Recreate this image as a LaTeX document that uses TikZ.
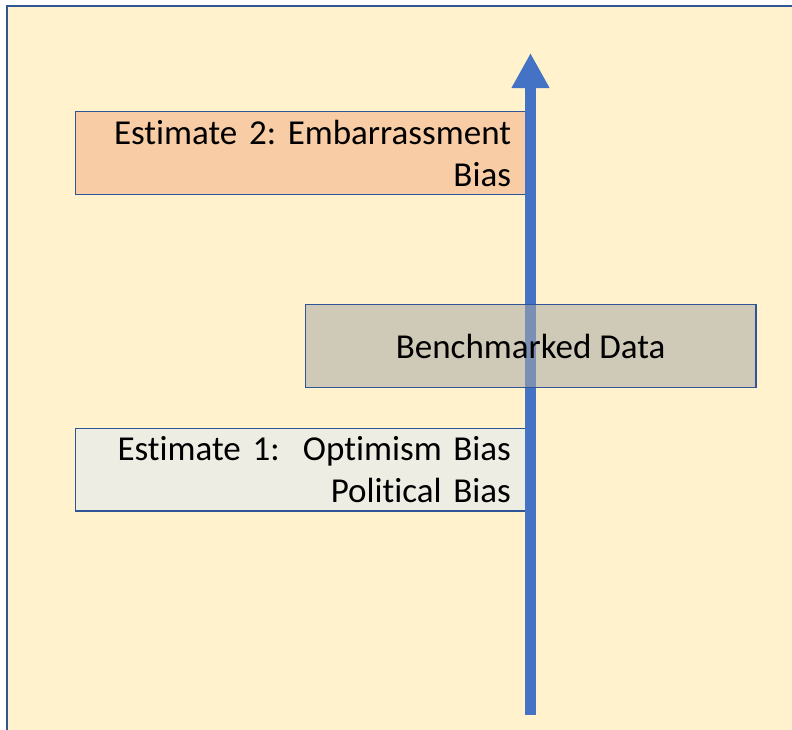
\documentclass[tikz,border=0pt]{standalone}
\usepackage{fontspec}
\setmainfont[Ligatures={NoCommon}]{Carlito}
\usetikzlibrary{arrows.meta}
\frenchspacing
\definecolor{paper}{HTML}{FFF2CC}
\definecolor{frameblue}{HTML}{2F5597}
\definecolor{arrowblue}{HTML}{4472C4}
\definecolor{peach}{HTML}{F8CCA4}
\definecolor{pale}{HTML}{EDEDE3}
\definecolor{stone}{HTML}{A8A8A6}
\tikzset{
  box/.style={draw=frameblue, line width=1.4pt, rectangle, inner ysep=0pt,
    font=\fontsize{35}{42}\selectfont, text=black},
  sidebox/.style={box, minimum width=450.5pt, text width=420.5pt, inner xsep=15pt,
    minimum height=82.5pt, align=right},
  axis/.style={draw=arrowblue, line width=11.5pt, line cap=butt,
    -{Triangle[width=35.5pt,length=35pt]}}
}
\begin{document}
\begin{tikzpicture}[x=1pt,y=-1pt]
  \useasboundingbox (0,0) rectangle (792,729);
  \clip (0,0) rectangle (792,729);
  % panel background with its top and left edge
  \fill[paper] (6.7,5.8) rectangle (800,740);
  \draw[frameblue, line width=1.8pt] (6.7,740) -- (6.7,5.8) -- (800,5.8);

  % the two estimates
  \node[sidebox, fill=peach] (est2) at (300.75,153) {Estimate 2: Embarrassment\\Bias};
  \node[sidebox, fill=pale] (est1) at (300.75,469.6) {Estimate 1:\ \ Optimism Bias\\Political Bias};

  % vertical axis
  \coordinate (base) at (530.5,715);
  \coordinate (tip) at (530.5,53);
  \draw[axis] (base) -- (tip);

  % benchmark, laid over the axis
  \node[box, fill=stone, fill opacity=0.55, text opacity=1, minimum width=450.7pt,
    minimum height=83pt] (bench) at (530.6,346) {Benchmarked Data};
\end{tikzpicture}
\end{document}
